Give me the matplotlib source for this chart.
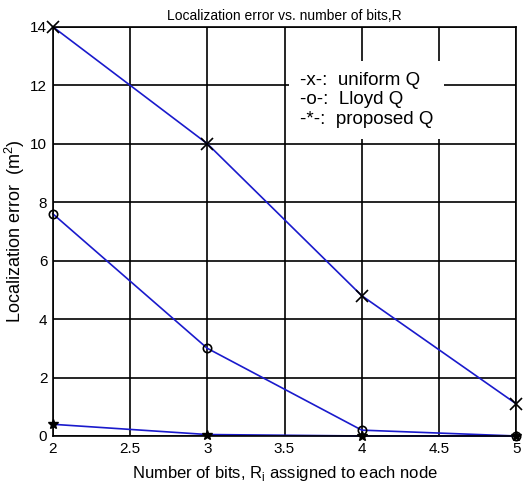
import matplotlib.pyplot as plt

plt.rcParams['font.family'] = ['Liberation Sans', 'DejaVu Sans']

bits = [2, 3, 4, 5]
uniform_q = [14.0, 10.0, 4.8, 1.1]
lloyd_q = [7.6, 3.0, 0.2, 0.0]
proposed_q = [0.4, 0.05, 0.0, 0.0]

fig = plt.figure(figsize=(5.23, 4.96), dpi=100)
ax = fig.add_axes([0.101, 0.121, 0.886, 0.825])

line_col = '#1a1acc'
ax.plot(bits, uniform_q, color=line_col, lw=1.2, marker='x', ms=9, mec='black', mew=1.2, clip_on=False)
ax.plot(bits, lloyd_q, color=line_col, lw=1.2, marker='o', ms=6, mfc='none', mec='black', mew=1.2, clip_on=False)
ax.plot(bits, proposed_q, color=line_col, lw=1.2, marker='*', ms=7, mfc='black', mec='black', clip_on=False)

ax.set_xlim(2, 5)
ax.set_ylim(0, 14)
ax.set_xticks([2, 2.5, 3, 3.5, 4, 4.5, 5])
ax.set_xticklabels(['2', '2.5', '3', '3.5', '4', '4.5', '5'])
ax.set_yticks(range(0, 15, 2))
ax.grid(True, color='black', lw=1.2)
ax.set_axisbelow(True)
for s in ax.spines.values():
    s.set_linewidth(1.2)
ax.tick_params(labelsize=11, length=0, pad=4)

ax.set_title('Localization error vs. number of bits,R', fontsize=10, pad=5)
ax.set_xlabel('Number of bits, R$_\\mathregular{i}$ assigned to each node', fontsize=12, labelpad=6)
ax.set_ylabel('Localization error  (m$^\\mathregular{2}$)', fontsize=13)
ax.yaxis.set_label_coords(-0.055, 0.5)

ax.text(3.6, 11.5, '-x-:  uniform Q\n-o-:  Lloyd Q\n-*-:  proposed Q', fontsize=13.5,
        va='center', ha='left', linespacing=1.2,
        bbox=dict(facecolor='white', edgecolor='none', pad=8))

fig.savefig('out.png', dpi=100)
